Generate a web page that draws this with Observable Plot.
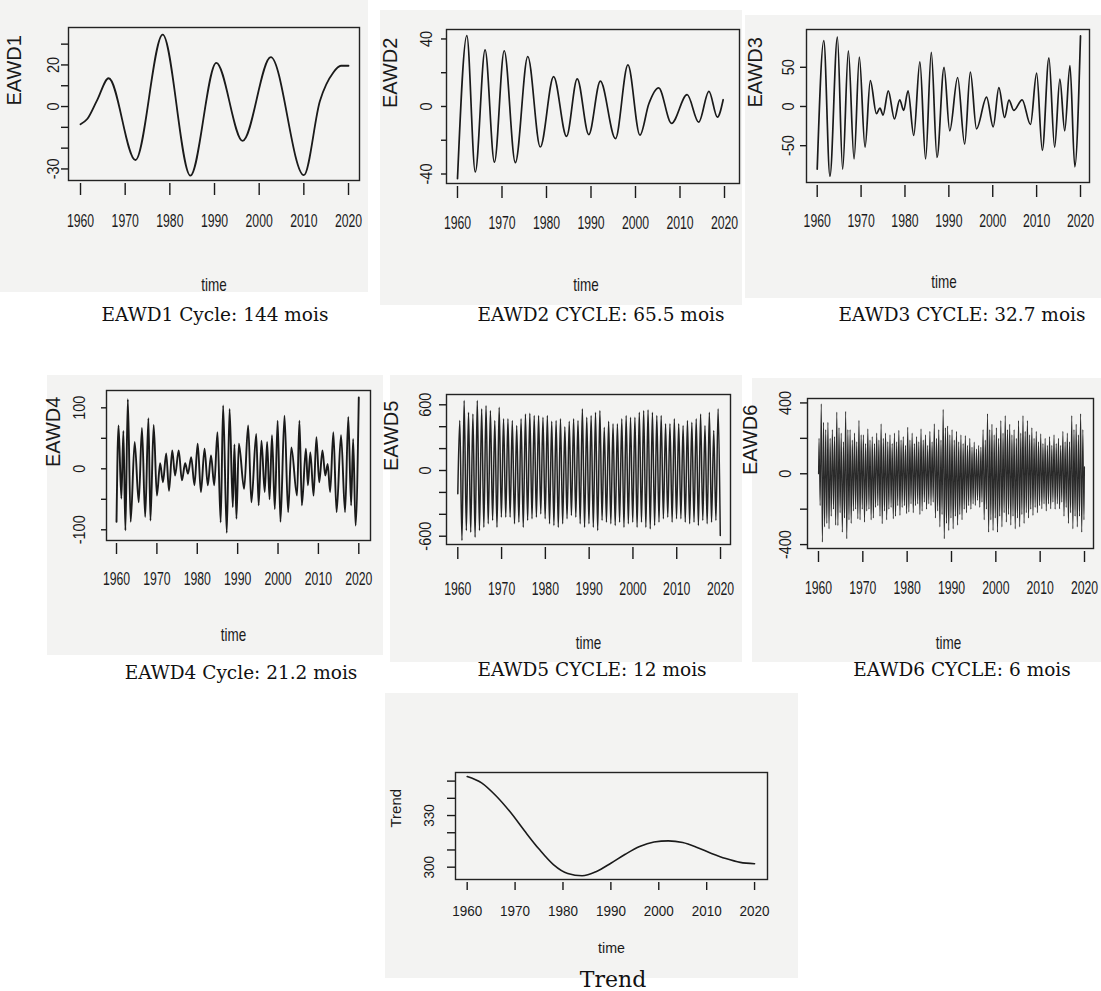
<!DOCTYPE html>
<html>
<head>
<meta charset="utf-8">
<script src="https://cdn.jsdelivr.net/npm/d3@7"></script>
<script src="https://cdn.jsdelivr.net/npm/@observablehq/plot@0.6"></script>
<style>
  body { margin: 0; background: #fff; }
  #wrap { position: relative; width: 1101px; height: 991px; overflow: hidden; background: #fff; }
  .panel { position: absolute; }
  .cap { position: absolute; font-family: "DejaVu Serif", "Liberation Serif", serif; font-size: 18.5px; color: #111;
         white-space: nowrap; transform: translate(-50%, -50%); line-height: 1; }
</style>
</head>
<body>
<div id="wrap"></div>
<script>
// ---------- data ----------
const yearTicks = [1960, 1970, 1980, 1990, 2000, 2010, 2020];

// EAWD1 : [time, value]
const eawd1 = [[1960, -8.5], [1961.5, -6], [1963.7, 3], [1966.3, 13.6], [1972.3, -25.7], [1978.4, 34.6],
  [1984.6, -33.2], [1990.4, 21], [1996.3, -16.5], [2002.6, 23.8], [2010.0, -33], [2013.6, 2.7],
  [2016.6, 16.4], [2018.3, 19.6], [2020, 19.6]];

// EAWD2
const eawd2 = [[1960, -42.8], [1962.1, 42], [1964.0, -38.8], [1966.2, 33.5], [1968.3, -33], [1970.5, 33],
  [1973.0, -33.3], [1975.8, 29.6], [1978.6, -24], [1981.6, 17.7], [1984.5, -17.7], [1986.9, 16.4],
  [1989.5, -16.7], [1992.1, 15], [1995.5, -19], [1998.3, 24.6], [2001.0, -17], [2003.0, 1.6],
  [2005.2, 11], [2008.1, -10], [2011.6, 7], [2014.2, -9.3], [2016.5, 9], [2018.4, -6.3], [2019.7, 4]];

// EAWD3
const eawd3 = [[1960, -80], [1961.5, 84], [1962.9, -89], [1964.6, 88.5], [1965.8, -80], [1967.1, 71],
  [1968.4, -67], [1969.6, 63], [1970.9, -52], [1972.1, 33], [1973.5, -9], [1974.3, -2], [1975.0, -11],
  [1976.2, 20], [1977.6, -16], [1978.8, 8.5], [1979.7, -5], [1980.7, 20], [1982.0, -37], [1983.4, 57],
  [1984.7, -67], [1986.0, 69], [1987.3, -65], [1988.9, 50], [1990.2, -31], [1992.0, 37], [1993.6, -48],
  [1994.9, 44], [1996.3, -28.5], [1998.6, 12], [2000.1, -26], [2001.4, 24], [2002.7, -14], [2003.7, 8],
  [2004.8, -5], [2006.7, 8.5], [2008.6, -23], [2010.0, 42.5], [2011.3, -56], [2012.8, 62], [2014.1, -52],
  [2015.3, 35], [2016.4, -31], [2017.6, 52], [2018.7, -77], [2020.0, 90]];

// EAWD4
const eawd4 = [[1960.0, -87], [1960.5, 71], [1961.2, -49], [1961.7, 62], [1962.2, -101], [1962.8, 114],
  [1963.5, -87], [1964.5, 44], [1965.5, -55], [1966.3, 67], [1967.1, -79], [1967.9, 83], [1968.4, -85],
  [1969.2, 72], [1970.0, -44], [1970.8, 9], [1971.5, -22], [1972.3, 25], [1973.0, -36], [1973.8, 30],
  [1974.5, -11], [1975.4, 30], [1976.2, -19], [1977.0, 9], [1977.7, -8], [1978.5, 19], [1979.3, -27],
  [1980.1, 41], [1980.9, -38], [1981.8, 33], [1982.6, -27], [1983.4, 22], [1984.2, -27], [1985.0, 60],
  [1985.8, -88], [1986.4, 104], [1987.3, -105], [1988.0, 98], [1988.8, -63], [1989.2, 40], [1989.7, -82],
  [1990.3, 41], [1991.6, -33], [1992.6, 71], [1993.4, -55], [1994.6, 57], [1995.2, -60], [1995.9, 46],
  [1996.7, -38], [1997.3, 44], [1997.9, -50], [1998.5, 55], [1999.2, -66], [1999.9, 79], [2000.6, -87],
  [2001.6, 87], [2002.5, -71], [2003.3, 35], [2004.7, -44], [2005.3, 79], [2005.9, -60], [2006.9, 33],
  [2007.4, -27], [2008.0, 27], [2008.8, -44], [2009.5, 52], [2010.2, -22], [2011.0, 30], [2011.7, -11],
  [2012.3, 8], [2012.9, -38], [2013.7, 60], [2014.5, -71], [2015.6, 55], [2016.6, -71], [2017.4, 85],
  [2018.1, -60], [2018.6, 49], [2019.2, -93], [2020.0, 117]];

// EAWD5 : one peak and one trough per year, 1960..2019
const eawd5Start = -213;
const eawd5Peaks = [457, 639, 532, 517, 639, 563, 594, 548, 457, 578,
  472, 472, 457, 411, 472, 517, 523, 502, 502, 487,
  502, 450, 457, 472, 400, 450, 472, 457, 563, 487,
  502, 532, 548, 396, 450, 426, 426, 472, 502, 487,
  487, 532, 548, 554, 532, 502, 502, 426, 426, 472,
  426, 411, 457, 441, 472, 517, 411, 532, 365, 563];
const eawd5Troughs = [-639, -548, -563, -609, -548, -518, -487, -457, -518, -426,
  -426, -426, -487, -472, -518, -457, -441, -426, -396, -441,
  -487, -502, -518, -487, -441, -411, -426, -487, -518, -487,
  -518, -548, -457, -472, -487, -502, -472, -518, -487, -472,
  -518, -472, -518, -533, -502, -472, -441, -426, -472, -441,
  -441, -472, -487, -472, -502, -457, -487, -472, -457, -594];

// EAWD6 : two peaks and two troughs per year, 1960..2019 [peak, trough, peak, trough]
const eawd6Start = 0, eawd6End = 40;
const eawd6Rows = [
  [200, -180, 395, -386], [290, -300, 250, -280], [290, -311, 200, -240], [250, -200, 210, -290],
  [348, -292, 260, -220], [230, -330, 180, -250], [352, -367, 250, -260], [250, -280, 190, -210],
  [230, -200, 180, -254], [301, -260, 220, -200], [220, -273, 170, -210], [254, -200, 190, -260],
  [210, -250, 170, -190], [230, -180, 190, -240], [282, -282, 200, -210], [230, -260, 180, -200],
  [220, -190, 170, -254], [230, -240, 180, -180], [245, -235, 190, -190], [210, -180, 160, -225],
  [263, -216, 190, -170], [230, -220, 170, -180], [210, -170, 180, -230], [254, -210, 190, -160],
  [220, -200, 160, -170], [240, -179, 180, -160], [282, -250, 200, -210], [250, -300, 190, -230],
  [363, -367, 260, -280], [270, -320, 220, -250], [250, -311, 190, -240], [240, -290, 180, -230],
  [220, -260, 170, -200], [216, -220, 160, -180], [200, -200, 150, -170], [179, -179, 140, -150],
  [160, -190, 150, -160], [250, -260, 190, -200], [339, -330, 250, -260], [280, -320, 220, -250],
  [260, -330, 200, -240], [300, -300, 230, -220], [329, -273, 250, -230], [280, -290, 220, -240],
  [250, -311, 200, -250], [300, -300, 230, -230], [329, -280, 240, -220], [300, -250, 220, -200],
  [260, -235, 200, -190], [240, -220, 180, -180], [226, -198, 170, -170], [200, -210, 160, -170],
  [210, -198, 160, -160], [220, -200, 170, -170], [200, -198, 160, -160], [240, -240, 180, -190],
  [230, -280, 180, -220], [329, -311, 250, -240], [280, -300, 220, -240], [339, -330, 250, -260]];

// Trend
const trend = [[1960, 352.7], [1963, 349], [1966, 341.5], [1969, 332], [1972, 321], [1975, 310.5],
  [1978, 301.5], [1981, 296.3], [1984, 295], [1987, 297.5], [1990, 302.3], [1993, 307.5],
  [1996, 312], [1999, 314.6], [2002, 315.3], [2005, 314.3], [2008, 311.5], [2011, 308],
  [2014, 305], [2017, 302.8], [2020, 302]];

// ---------- tables built from the arrays ----------
const eawd5 = [[1960, eawd5Start]].concat(
  eawd5Peaks.flatMap((p, i) => [[1960 + i + 0.45, p], [1960 + i + 0.95, eawd5Troughs[i]]]));
const eawd6 = [[1960, eawd6Start]].concat(
  eawd6Rows.flatMap((r, i) => r.map((v, j) => [1960 + i + 0.125 + 0.25 * j, v])),
  [[2020, eawd6End]]);

// ---------- layout ----------
const BG = "#f3f3f2";
const panels = [
  {data: eawd1, ylab: "EAWD1", cap: "EAWD1 Cycle: 144 mois", left: 0, top: 0, w: 368, h: 292,
   ml: 68, mr: 9, mt: 27, mb: 109, xd: [1957.31, 2022.46], yd: [-37, 38],
   yt: [-30, -20, -10, 0, 10, 20, 30], yl: [-30, 0, 20], xts: 12, xtp: 18.5, yts: 7, ytp: 3,
   ldx: -54, tdx: 0, tdy: 102, cx: 215, cy: 315, sw: 1.8, stroke: "#1a1a1a"},
  {data: eawd2, ylab: "EAWD2", cap: "EAWD2 CYCLE: 65.5 mois", left: 380, top: 10, w: 362, h: 295,
   ml: 66, mr: 3, mt: 19, mb: 119, xd: [1957.53, 2023.37], yd: [-47.4, 45.6],
   yt: [-40, -20, 0, 20, 40], yl: [-40, 0, 40], xts: 12, xtp: 17.5, yts: 5, ytp: 10,
   ldx: -56, tdx: -7, tdy: 99, cx: 601, cy: 315, sw: 1.7, stroke: "#1a1a1a"},
  {data: eawd3, ylab: "EAWD3", cap: "EAWD3 CYCLE: 32.7 mois", left: 745, top: 15, w: 356, h: 283,
   ml: 61, mr: 12, mt: 14, mb: 113, xd: [1957.56, 2022.05], yd: [-100.8, 98.2],
   yt: [-50, 0, 50], yl: [-50, 0, 50], xts: 12, xtp: 16.5, yts: 6, ytp: 7,
   ldx: -51, tdx: -4, tdy: 97, cx: 962, cy: 315, sw: 1.7, stroke: "#1a1a1a"},
  {data: eawd4, ylab: "EAWD4", cap: "EAWD4 Cycle: 21.2 mois", left: 47, top: 375, w: 336, h: 280,
   ml: 59, mr: 13, mt: 15, mb: 112, xd: [1957.52, 2022.9], yd: [-122.5, 128.4],
   yt: [-100, -50, 0, 50, 100], yl: [-100, 0, 100], xts: 11, xtp: 17.5, yts: 5, ytp: 17,
   ldx: -53, tdx: -5, tdy: 92, cx: 241, cy: 673, sw: 1.9, stroke: "#1a1a1a"},
  {data: eawd5, ylab: "EAWD5", cap: "EAWD5 CYCLE: 12 mois", left: 390, top: 375, w: 352, h: 287,
   ml: 56, mr: 12, mt: 19, mb: 115, xd: [1957.42, 2022.28], yd: [-703, 694],
   yt: [-600, -400, -200, 0, 200, 400, 600], yl: [-600, 0, 600], xts: 12, xtp: 22.5, yts: 7, ytp: 9,
   ldx: -55, tdx: 0, tdy: 96, cx: 592, cy: 670, sw: 1.5, stroke: "#222"},
  {data: eawd6, ylab: "EAWD6", cap: "EAWD6 CYCLE: 6 mois", left: 752, top: 378, w: 349, h: 284,
   ml: 55, mr: 8, mt: 20, mb: 111, xd: [1957.52, 2022.03], yd: [-439, 425],
   yt: [-400, -200, 0, 200, 400], yl: [-400, 0, 400], xts: 11, xtp: 18.5, yts: 7, ytp: 10,
   ldx: -57, tdx: -2, tdy: 92, cx: 962, cy: 670, sw: 1.1, stroke: "#2a2a2a"},
  {data: trend, ylab: "Trend", cap: "Trend", left: 385, top: 693, w: 413, h: 285,
   ml: 70, mr: 31, mt: 79, mb: 96, xd: [1957.56, 2022.7], yd: [291.1, 355.0],
   yt: [300, 310, 320, 330, 340, 350], yl: [300, 330], xts: 8, xtp: 14.5, yts: 8, ytp: 14,
   ldx: -59, tdx: 0, tdy: 66, cx: 613, cy: 980, sw: 1.6, stroke: "#1a1a1a",
   xf: 15, yf: 15, xs: 0.9, ys: 0.9, tf: 15, ts: 0.95, lf: 15, capSize: 22}
];

function narrow(t, s) {
  if (s === 1) return;
  let tr = t.getAttribute("transform");
  if (!tr) {
    const x = t.getAttribute("x") || 0;
    t.removeAttribute("x");
    tr = `translate(${x},0)`;
  }
  t.setAttribute("transform", `${tr} scale(${s},1)`);
}

const wrap = document.getElementById("wrap");
for (const p of panels) {
  const svg = Plot.plot({
    width: p.w, height: p.h,
    marginLeft: p.ml, marginRight: p.mr, marginTop: p.mt, marginBottom: p.mb,
    style: `background:${BG};overflow:visible;font-family:'Liberation Sans',Arial,sans-serif;color:#1a1a1a;`,
    x: {domain: p.xd, label: null},
    y: {domain: p.yd, label: null},
    marks: [
      Plot.frame({stroke: "#222", strokeWidth: 1.4, insetBottom: 3}),
      Plot.axisX(yearTicks, {tickSize: p.xts, tickPadding: p.xtp, fontSize: p.xf ?? 18,
        strokeWidth: 1.4, label: null, tickFormat: d => String(d)}),
      Plot.axisY(p.yt, {tickSize: p.yts, tickPadding: p.ytp, tickRotate: -90, fontSize: p.yf ?? 17,
        strokeWidth: 1.4, label: null, tickFormat: d => p.yl.includes(d) ? String(d) : ""}),
      Plot.line(p.data, {x: d => d[0], y: d => d[1], curve: "monotone-x", stroke: p.stroke, strokeWidth: p.sw}),
      Plot.text(["time"], {text: d => d, frameAnchor: "bottom", dx: p.tdx, dy: p.tdy,
        fontSize: p.tf ?? 18, lineAnchor: "middle", fill: "#1a1a1a"}),
      Plot.text([p.ylab], {text: d => d, frameAnchor: "left", rotate: -90, dx: p.ldx,
        fontSize: p.lf ?? 20, lineAnchor: "middle", fill: "#1a1a1a"})
    ]
  });
  const div = document.createElement("div");
  div.className = "panel";
  div.style.left = p.left + "px";
  div.style.top = p.top + "px";
  div.style.width = p.w + "px";
  div.style.height = p.h + "px";
  div.appendChild(svg);
  wrap.appendChild(div);

  svg.querySelectorAll('[aria-label="x-axis tick label"] text').forEach(t => narrow(t, p.xs ?? 0.68));
  svg.querySelectorAll('[aria-label="y-axis tick label"] text').forEach(t => narrow(t, p.ys ?? 0.85));
  svg.querySelectorAll("text").forEach(t => { if (t.textContent === "time") narrow(t, p.ts ?? 0.75); });

  const cap = document.createElement("div");
  cap.className = "cap";
  cap.textContent = p.cap;
  cap.style.left = p.cx + "px";
  cap.style.top = p.cy + "px";
  if (p.capSize) cap.style.fontSize = p.capSize + "px";
  wrap.appendChild(cap);
}
</script>
</body>
</html>
